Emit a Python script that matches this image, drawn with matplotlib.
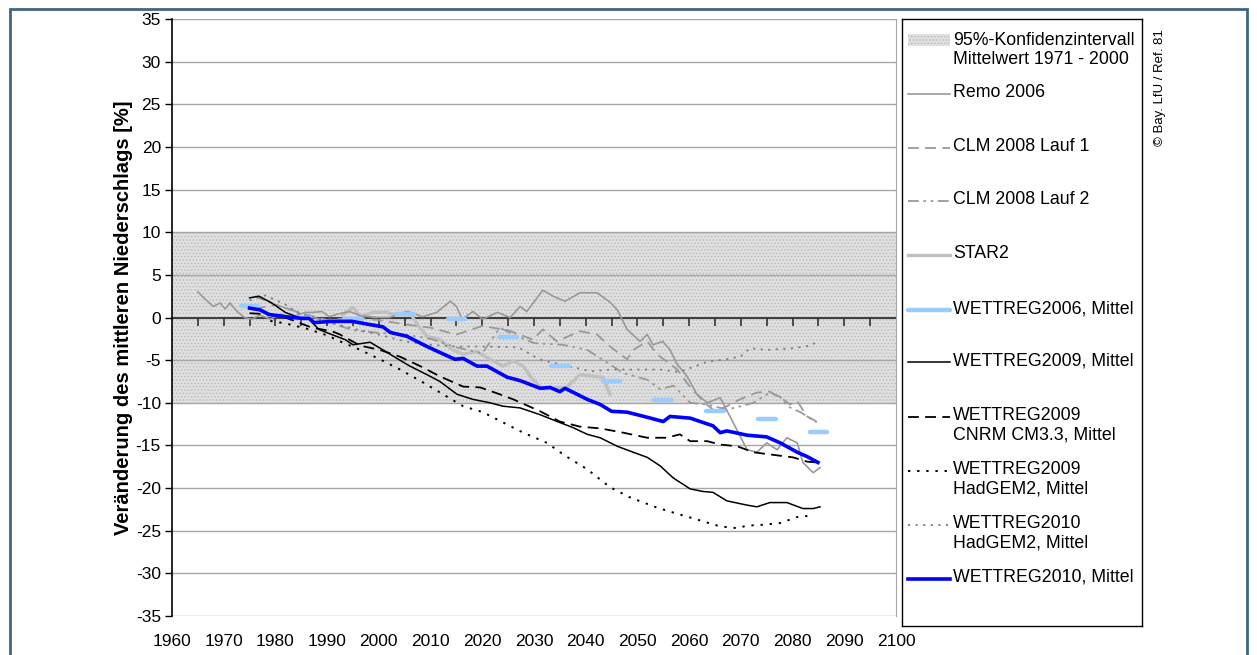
import numpy as np
import matplotlib
matplotlib.use("Agg")
import matplotlib.pyplot as plt
from matplotlib.patches import Rectangle

plt.rcParams['font.family'] = ['Liberation Sans', 'DejaVu Sans']
plt.rcParams['hatch.linewidth'] = 0.7
plt.rcParams['axes.unicode_minus'] = False

# --- data (year, change in %) ---
remo_x = [1965, 1966.5, 1968, 1969.3, 1970.3, 1971.2, 1972.6, 1974, 1975.5, 1977, 1979, 1981, 1983,
          1985.7, 1987, 1989, 1990.4, 1992, 1994.4, 1996.5, 1999.6, 2002, 2005.4, 2008.5, 2011.2,
          2013.8, 2015, 2016.1, 2018.2, 2020.1, 2022.9, 2025.4, 2027.3, 2028.6, 2031.7, 2033.7,
          2036, 2038.9, 2042.2, 2044.7, 2046.1, 2048, 2050.5, 2051.9, 2053, 2054.9, 2056.3, 2057.7,
          2059.6, 2061.5, 2063.5, 2066, 2067.9, 2071.2, 2073.1, 2075, 2077, 2078.9, 2080.9, 2082,
          2084, 2085.3]
remo_y = [3.0, 2.1, 1.3, 1.7, 1.0, 1.7, 0.7, 0.0, -0.2, 0.3, -0.2, 0.4, 0.0,
          0.6, 0.6, 0.7, 0.1, 0.4, 0.7, 0.2, 0.0, 0.0, 0.7, 0.1, 0.6,
          1.9, 1.3, -0.2, 0.7, -0.2, 0.6, 0.0, 1.3, 0.7, 3.2, 2.5,
          1.9, 2.9, 2.9, 1.8, 0.9, -1.4, -2.8, -2.0, -3.2, -2.8, -3.8, -5.5,
          -6.9, -9.0, -10.0, -9.4, -11.6, -15.5, -15.8, -14.7, -15.5, -14.1, -14.7, -17.0,
          -18.2, -17.6]

clm1_x = [1976, 1980, 1985, 1990, 1995, 2000, 2005, 2010, 2015, 2020, 2025, 2029.8, 2031.7,
          2034.4, 2038.9, 2042.2, 2044.7, 2048, 2049.2, 2051.9, 2053.8, 2057.7, 2060, 2063,
          2065, 2067.3, 2069.8, 2073.1, 2075.6, 2078.2, 2079.5, 2080.9, 2082.8, 2084.7]
clm1_y = [1.0, 1.5, 0.5, -0.3, 0.0, -0.3, -0.8, -1.2, -2.0, -1.0, -1.5, -2.6, -1.4,
          -2.8, -1.6, -2.0, -3.4, -4.9, -3.8, -2.8, -4.3, -6.1, -8.0, -10.0,
          -11.0, -10.4, -9.6, -8.8, -8.7, -9.6, -10.2, -9.8, -11.6, -12.2]

clm2_x = [1976, 1980, 1985, 1990, 1995, 2000, 2005, 2010, 2015, 2020, 2023.4, 2026, 2030,
          2035.6, 2040.3, 2044.7, 2047.2, 2051.9, 2054.4, 2057, 2060.2, 2063.5, 2067.3,
          2070, 2072.4, 2075.6, 2077.6, 2079, 2081.5, 2084.7]
clm2_y = [2.5, 1.5, 0.5, -0.5, -1.5, -1.8, -2.0, -2.5, -3.5, -4.2, -1.2, -2.0, -3.0,
          -3.2, -3.8, -5.5, -6.5, -7.3, -8.4, -8.0, -10.0, -10.2, -10.8,
          -10.4, -10.0, -8.8, -9.3, -10.4, -11.1, -12.3]

star2_x = [1993, 1995, 1996.4, 1998.9, 2001.6, 2002.8, 2006, 2007.4, 2009.3, 2011.8, 2014.3,
           2016.3, 2019, 2021.5, 2024, 2026, 2027.9, 2029.8, 2031.7, 2034.4, 2036.3, 2038.9,
           2041.4, 2043.3, 2044.7]
star2_y = [0.3, 1.2, 0.1, 0.6, 0.6, 0.35, 0.6, -0.8, -2.2, -2.6, -3.8,
           -4.3, -4.0, -4.9, -5.7, -5.1, -5.7, -7.3, -8.4, -8.2, -8.2, -6.7,
           -6.9, -7.0, -9.0]

w2006_x = [1975, 1985, 1995, 2005, 2015, 2025, 2035, 2045, 2055, 2065, 2075, 2085]
w2006_y = [1.3, -0.1, -0.2, 0.4, -0.2, -2.3, -5.7, -7.5, -9.7, -11.0, -11.9, -13.4]

w2009_x = [1975, 1976.8, 1979.3, 1981.9, 1984.5, 1986.5, 1988.4, 1990.9, 1993.5, 1995, 1998.3,
           2000.8, 2003.5, 2006, 2009.3, 2011.8, 2015.1, 2018.2, 2021.5, 2024, 2027.3, 2031.2,
           2034.5, 2037.5, 2040.3, 2042.8, 2046.1, 2049.2, 2051.9, 2054.4, 2056.9, 2060.2,
           2062.7, 2064.6, 2067.3, 2071.2, 2073.1, 2075.6, 2078.9, 2082, 2084, 2085.3]
w2009_y = [2.3, 2.5, 1.7, 0.6, 0.0, -0.2, -1.4, -2.0, -2.6, -3.2, -2.9,
           -3.8, -4.8, -5.7, -6.7, -7.5, -9.0, -9.6, -10.0, -10.4, -10.6, -11.4,
           -12.2, -12.9, -13.7, -14.1, -15.1, -15.8, -16.4, -17.4, -18.8, -20.1,
           -20.4, -20.5, -21.5, -22.0, -22.2, -21.7, -21.7, -22.4, -22.4, -22.2]

cnrm_x = [1975, 1978, 1981.9, 1987.1, 1990.9, 1992.5, 1996.4, 2000.2, 2004.1, 2008, 2011.8,
          2016.3, 2019.6, 2022.9, 2026, 2031.2, 2035, 2038.9, 2042.8, 2047.2, 2051.9, 2055.7,
          2058.2, 2060.2, 2063.5, 2066, 2069.3, 2072.4, 2076.2, 2080.1, 2082.8, 2084.7]
cnrm_y = [0.5, 0.4, 0.0, -1.2, -1.6, -2.0, -3.3, -3.8, -4.6, -5.7, -6.9,
          -8.1, -8.2, -8.9, -9.6, -11.0, -12.2, -12.8, -13.0, -13.5, -14.1, -14.1,
          -13.7, -14.5, -14.5, -14.9, -15.1, -15.8, -16.1, -16.4, -16.9, -17.0]

had09_x = [1979, 1982, 1986, 1990, 1992.5, 1996.4, 2000.2, 2004.1, 2008.5, 2012.4, 2016.3,
           2020.1, 2024, 2027.9, 2032.5, 2036, 2040.3, 2044.7, 2048.6, 2053.8, 2058.2, 2062.7,
           2066, 2069.3, 2071.2, 2074.3, 2077.6, 2080.9, 2084]
had09_y = [-0.4, -0.7, -1.3, -2.1, -2.8, -3.8, -4.9, -6.1, -7.6, -9.0, -10.4,
           -11.1, -12.3, -13.5, -14.7, -16.2, -17.8, -19.9, -21.1, -22.3, -23.1, -23.9,
           -24.5, -24.7, -24.4, -24.3, -24.1, -23.4, -23.2]

had10_x = [1975, 1978, 1982, 1985, 1990, 1995, 2000, 2005, 2010, 2015, 2020, 2027, 2031,
           2035, 2041, 2045, 2050, 2054.4, 2058, 2063.5, 2067, 2069.9, 2071.8, 2075, 2080.1,
           2083.4, 2084.9]
had10_y = [2.0, 2.6, 1.5, 0.3, -0.5, -1.3, -2.0, -2.8, -3.2, -3.4, -3.4, -3.5, -4.9,
           -5.5, -6.3, -6.1, -6.1, -6.1, -6.4, -5.2, -4.9, -4.6, -3.6, -3.8, -3.6,
           -3.3, -2.8]

w2010_x = [1975, 1977, 1978.8, 1981.9, 1985.1, 1986.5, 1987.5, 1990.9, 1994.8, 1998, 2000.8,
           2002.2, 2005.4, 2009.3, 2011.8, 2014.7, 2016.3, 2019, 2020.9, 2024.8, 2027.3, 2031.2,
           2033.1, 2035, 2036, 2040.3, 2042.8, 2045, 2048, 2051.9, 2055, 2056.3, 2060.2,
           2064.6, 2066, 2067.3, 2071.2, 2075, 2077.6, 2080.9, 2082.8, 2084.9]
w2010_y = [1.1, 0.9, 0.35, 0.1, -0.1, -0.1, -0.6, -0.45, -0.45, -0.8, -1.1,
           -1.75, -2.2, -3.4, -4.1, -4.9, -4.8, -5.7, -5.7, -7.0, -7.4, -8.3,
           -8.2, -8.7, -8.3, -9.6, -10.2, -11.0, -11.1, -11.7, -12.2, -11.6, -11.8,
           -12.7, -13.5, -13.3, -13.8, -14.0, -14.7, -15.8, -16.3, -17.0]

band_lo, band_hi = -10, 10
yticks = list(range(-35, 40, 5))
xticks = list(range(1960, 2110, 10))

# --- styles ---
st_remo = dict(color='#999999', lw=1.2)
st_clm1 = dict(color='#999999', lw=1.3, dashes=(6, 3.5))
st_clm2 = dict(color='#999999', lw=1.3, dashes=(6, 2.5, 1.5, 2.5, 1.5, 2.5))
st_star = dict(color='#c0c0c0', lw=2.4)
st_w06 = dict(color='#99ccff', lw=3.2, solid_capstyle='round')
st_w09 = dict(color='black', lw=1.1)
st_cnrm = dict(color='black', lw=1.3, dashes=(6, 3.5))
st_had09 = dict(color='black', lw=1.4, dashes=(1.2, 3.5))
st_had10 = dict(color='#808080', lw=1.3, dashes=(1.2, 3.0))
st_w10 = dict(color='#0000ff', lw=2.6)

W, H = 1257, 655
fig = plt.figure(figsize=(W / 100, H / 100), dpi=100)

def px_axes(x0, y0, x1, y1):
    return fig.add_axes([x0 / W, 1 - y1 / H, (x1 - x0) / W, (y1 - y0) / H])

ax = px_axes(172, 19, 896, 616)
ax.set_xlim(1960, 2100)
ax.set_ylim(-35, 35)

ax.axhspan(band_lo, band_hi, facecolor='#e0e0e0', edgecolor='#bdbdbd', hatch='.....', lw=0, zorder=0)
for yv in yticks:
    ax.axhline(yv, color='#a6a6a6', lw=1.0, zorder=0.5)
ax.axhline(0, color='#333333', lw=1.3, zorder=1)
tick_years = np.arange(1965, 2100, 5)
ax.plot(tick_years, np.zeros(len(tick_years)), ls='none', marker=3, ms=6, mew=1.2,
        color='#333333', zorder=1)

ax.plot(remo_x, remo_y, zorder=3, **st_remo)
ax.plot(clm1_x, clm1_y, zorder=3, **st_clm1)
ax.plot(clm2_x, clm2_y, zorder=3, **st_clm2)
ax.plot(star2_x, star2_y, zorder=2.5, **st_star)
ax.hlines(w2006_y, np.array(w2006_x) - 1.7, np.array(w2006_x) + 1.7, zorder=3.5,
          colors=st_w06['color'], lw=st_w06['lw'], capstyle='round')
ax.plot(w2009_x, w2009_y, zorder=4, **st_w09)
ax.plot(cnrm_x, cnrm_y, zorder=4, **st_cnrm)
ax.plot(had09_x, had09_y, zorder=4, **st_had09)
ax.plot(had10_x, had10_y, zorder=3, **st_had10)
ax.plot(w2010_x, w2010_y, zorder=5, **st_w10)

ax.set_yticks(yticks)
ax.set_xticks(xticks)
ax.tick_params(axis='y', direction='out', length=5, width=1, labelsize=12.5, pad=3)
ax.tick_params(axis='x', length=0, labelsize=12.5, pad=13)
for s in ('top', 'bottom'):
    ax.spines[s].set_visible(False)
ax.spines['right'].set_color('#a6a6a6')
ax.spines['left'].set_color('black')
ax.spines['left'].set_linewidth(1.2)
ax.set_ylabel('Veränderung des mittleren Niederschlags [%]', fontsize=14.5,
              fontweight='bold', labelpad=2)

# --- legend box ---
lax = px_axes(902, 19, 1142, 626)
lax.set_xlim(0, 240)
lax.set_ylim(607, 0)
lax.set_xticks([])
lax.set_yticks([])
for s in lax.spines.values():
    s.set_color('black')
    s.set_linewidth(1.0)

hx0, hx1, tx = 6, 48, 51
fs = 12.8
lax.add_patch(Rectangle((hx0, 15), hx1 - hx0, 12, facecolor='#e0e0e0', edgecolor='#bdbdbd',
                        hatch='.....', lw=0))
lax.text(tx, 31, '95%-Konfidenzintervall\nMittelwert 1971 - 2000', va='center', fontsize=fs,
         linespacing=1.1)
entries = [
    (75, 'Remo 2006', st_remo),
    (129, 'CLM 2008 Lauf 1', st_clm1),
    (182, 'CLM 2008 Lauf 2', st_clm2),
    (236, 'STAR2', st_star),
    (291, 'WETTREG2006, Mittel', st_w06),
    (343, 'WETTREG2009, Mittel', st_w09),
    (398, 'WETTREG2009\nCNRM CM3.3, Mittel', st_cnrm),
    (452, 'WETTREG2009\nHadGEM2, Mittel', st_had09),
    (506, 'WETTREG2010\nHadGEM2, Mittel', st_had10),
    (560, 'WETTREG2010, Mittel', st_w10),
]
for yy, lab, st in entries:
    lax.plot([hx0, hx1], [yy, yy], **st)
    lax.text(tx, yy - 10, lab, va='top', fontsize=fs, linespacing=1.2)

fig.text(1160 / W, 1 - 88 / H, '© Bay. LfU / Ref. 81', rotation=90, ha='center', va='center',
         fontsize=9.5)

# outer frame
fig.patches.append(Rectangle((10 / W, -0.05), 1237 / W, 1 - 9 / H + 0.05, transform=fig.transFigure,
                             fill=False, edgecolor='#3e6680', lw=2))

fig.savefig('out.png', dpi=100)
